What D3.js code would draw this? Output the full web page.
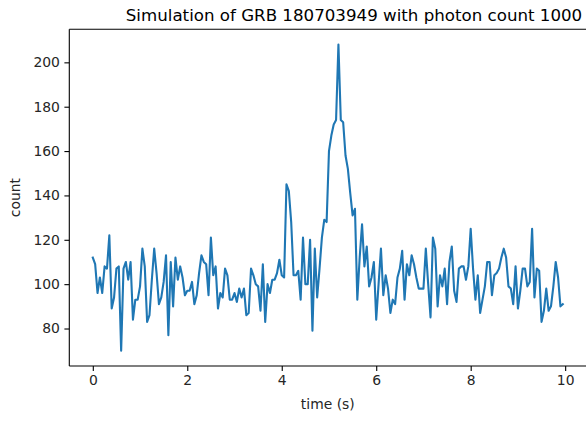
<!DOCTYPE html>
<html>
<head>
<meta charset="utf-8">
<script src="https://cdn.jsdelivr.net/npm/d3@7"></script>
<style>
  html, body { margin: 0; padding: 0; background: #fff; }
  svg { display: block; font-family: "DejaVu Sans", sans-serif; }
</style>
</head>
<body>
<svg id="chart" width="586" height="423"></svg>
<script>
// ---- data ----
const titleText = "Simulation of GRB 180703949 with photon count 1000";
const xLabel = "time (s)";
const yLabel = "count";
const binWidth = 0.05; // seconds per bin
const counts = [
  112,109,96,103,96,108,107,122,89,94,
  107,108,70,107,110,102,110,84,93,93,
  99,116,108,83,86,102,116,105,91,94,
  101,113,77,110,90,112,102,108,103,95,
  97,97,101,91,95,105,113,110,109,95,
  121,104,108,89,96,94,107,104,93,93,
  96,92,98,94,98,86,87,107,104,100,
  99,88,109,83,100,96,102,102,105,111,
  104,103,145,142,128,104,104,106,93,121,
  100,100,120,79,116,94,107,121,129,128,
  160,167,172,174,208,174,173,158,152,141,
  131,134,93,112,127,108,117,99,103,110,
  84,100,116,95,104,98,87,93,91,103,
  107,115,93,109,104,113,109,103,98,98,
  98,116,100,85,121,116,90,104,99,107,
  91,110,117,97,92,107,108,108,102,108,
  125,107,93,104,87,93,99,110,110,95,
  104,105,107,112,116,112,99,98,91,108,
  89,97,107,107,99,101,125,94,107,106,
  83,88,98,88,90,99,110,103,90,91
];
const xTicks = [0, 2, 4, 6, 8, 10];
const yTicks = [80, 100, 120, 140, 160, 180, 200];

const data = counts.map((c, i) => ({ t: i * binWidth, c }));

// ---- layout ----
const svg = d3.select("#chart");
const mLeft = 69.3, mRight = 586.3, mTop = 29.3, mBottom = 366;

const tMin = d3.min(data, d => d.t), tMax = d3.max(data, d => d.t);
const cMin = d3.min(data, d => d.c), cMax = d3.max(data, d => d.c);
const xm = (tMax - tMin) * 0.05, ym = (cMax - cMin) * 0.05;

const x = d3.scaleLinear().domain([tMin - xm, tMax + xm]).range([mLeft, mRight]);
const y = d3.scaleLinear().domain([cMin - ym, cMax + ym]).range([mBottom, mTop]);

// line
svg.append("path")
  .datum(data)
  .attr("fill", "none")
  .attr("stroke", "#1f77b4")
  .attr("stroke-width", 2.1)
  .attr("stroke-linejoin", "round")
  .attr("stroke-linecap", "square")
  .attr("d", d3.line().x(d => x(d.t)).y(d => y(d.c)));

// axes
const tickFont = "13.9px";
const xAxis = svg.append("g")
  .attr("transform", `translate(0,${mBottom})`)
  .call(d3.axisBottom(x).tickValues(xTicks).tickFormat(d3.format("d")).tickSizeOuter(0).tickSize(4.9).tickPadding(4.5));
const yAxis = svg.append("g")
  .attr("transform", `translate(${mLeft},0)`)
  .call(d3.axisLeft(y).tickValues(yTicks).tickFormat(d3.format("d")).tickSizeOuter(0).tickSize(4.9).tickPadding(4.5));

[xAxis, yAxis].forEach(g => {
  g.select(".domain").remove();
  g.selectAll(".tick line").attr("stroke", "#000").attr("stroke-width", 1.1);
  g.selectAll(".tick text")
    .attr("fill", "#262626")
    .style("font-family", "'DejaVu Sans', sans-serif")
    .style("font-size", tickFont);
});

// spines (the right spine falls just outside the cropped picture)
const spines = svg.append("g").attr("fill", "none").attr("stroke", "#000").attr("stroke-width", 1.1);
spines.append("line").attr("x1", mLeft).attr("x2", mLeft).attr("y1", mTop).attr("y2", mBottom);
spines.append("line").attr("x1", mLeft).attr("x2", mRight).attr("y1", mBottom).attr("y2", mBottom);
spines.append("line").attr("x1", mLeft).attr("x2", mRight).attr("y1", mTop).attr("y2", mTop);

// labels
svg.append("text")
  .attr("x", 354).attr("y", 21)
  .attr("text-anchor", "middle")
  .attr("fill", "#000")
  .style("font-size", "16.67px")
  .text(titleText);

svg.append("text")
  .attr("x", (mLeft + mRight) / 2).attr("y", 409)
  .attr("text-anchor", "middle")
  .attr("fill", "#262626")
  .style("font-size", "13.9px")
  .text(xLabel);

svg.append("text")
  .attr("transform", `translate(20,${(mTop + mBottom) / 2}) rotate(-90)`)
  .attr("text-anchor", "middle")
  .attr("fill", "#262626")
  .style("font-size", "13.9px")
  .text(yLabel);
</script>
</body>
</html>
